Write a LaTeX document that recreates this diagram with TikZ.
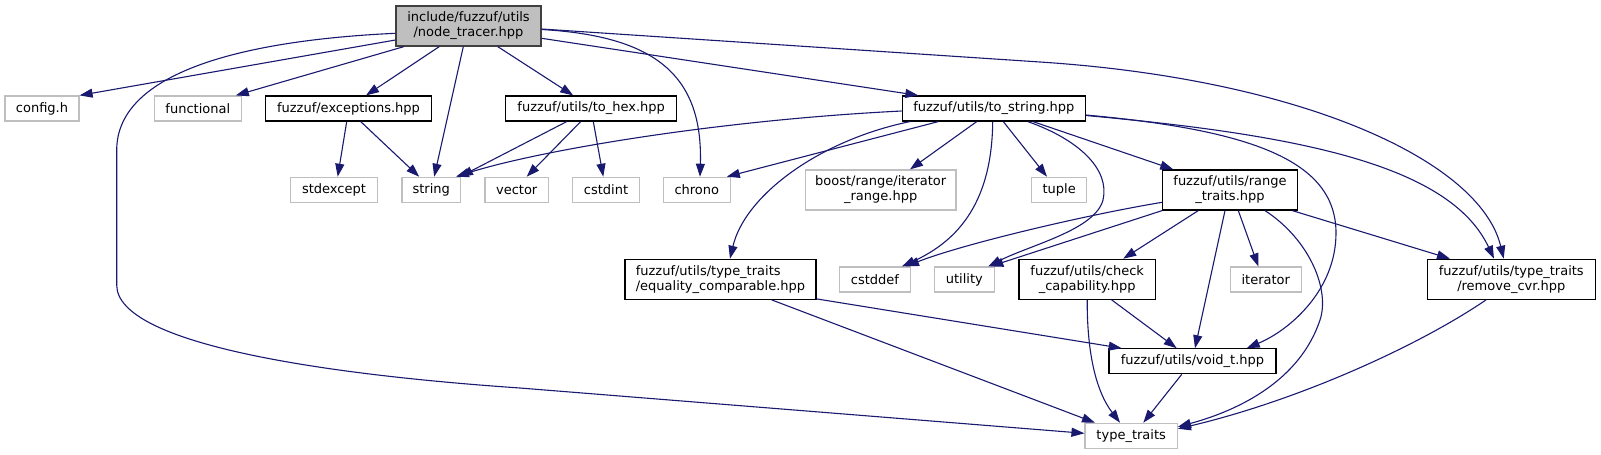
\documentclass[tikz,border=0pt]{standalone}
\usepackage{fontspec}
\newfontfamily\dvs{DejaVu Sans}
\usetikzlibrary{arrows.meta,calc}
\definecolor{edgeblue}{HTML}{191970}
\definecolor{greyb}{HTML}{BFBFBF}
\definecolor{dgrey}{HTML}{404040}
\begin{document}
\begin{tikzpicture}[x=1pt,y=-1pt,
 nd/.style={rectangle, draw=black, fill=white, line width=1.2pt, inner sep=0pt, align=center, font=\dvs\fontsize{13}{15}\selectfont, text=black},
 ext/.style={nd, draw=greyb},
 topnode/.style={nd, draw=dgrey, fill=greyb},
 e/.style={draw=edgeblue, line width=1.1pt, -{Triangle[length=13pt,width=9pt]}}
]
\useasboundingbox[fill=white] (0,0) rectangle (1601,455);

\node[topnode, minimum width=145pt, minimum height=40pt] (main) at (468.5,26) {include/fuzzuf/utils\\/node\_tracer.hpp};

\node[ext, minimum width=74pt, minimum height=25pt] (config) at (42,108.5) {config.h};
\node[ext, minimum width=87pt, minimum height=25pt] (functional) at (197.8,108.5) {functional};
\node[nd, minimum width=165.6pt, minimum height=25pt] (exceptions) at (348.5,108.5) {fuzzuf/exceptions.hpp};
\node[nd, minimum width=171pt, minimum height=25pt] (tohex) at (591.2,108.5) {fuzzuf/utils/to\_hex.hpp};
\node[nd, minimum width=183pt, minimum height=25pt] (tostring) at (993.8,108.5) {fuzzuf/utils/to\_string.hpp};

\node[ext, minimum width=86.6pt, minimum height=25pt] (stdexcept) at (334,189.8) {stdexcept};
\node[ext, minimum width=58.3pt, minimum height=25pt] (string) at (431.2,189.8) {string};
\node[ext, minimum width=63.3pt, minimum height=25pt] (vector) at (516.7,189.8) {vector};
\node[ext, minimum width=66.6pt, minimum height=25pt] (cstdint) at (606,189.8) {cstdint};
\node[ext, minimum width=67pt, minimum height=25pt] (chrono) at (696.8,189.8) {chrono};
\node[ext, minimum width=150.7pt, minimum height=40pt] (boost) at (880.7,190) {boost/range/iterator\\\_range.hpp};
\node[ext, minimum width=55pt, minimum height=25pt] (tuple) at (1059.2,189.8) {tuple};
\node[nd, minimum width=134.6pt, minimum height=40pt] (range) at (1230,190) {fuzzuf/utils/range\\\_traits.hpp};

\node[nd, align=left, minimum width=191pt, minimum height=40pt] (equality) at (720.5,279.3) {fuzzuf/utils/type\_traits\\/equality\_comparable.hpp};
\node[ext, minimum width=70.6pt, minimum height=25pt] (cstddef) at (875,279.5) {cstddef};
\node[ext, minimum width=60pt, minimum height=25pt] (utility) at (964.3,279.5) {utility};
\node[nd, minimum width=136.3pt, minimum height=40pt] (check) at (1087.2,279.3) {fuzzuf/utils/check\\\_capability.hpp};
\node[ext, minimum width=71pt, minimum height=25pt] (iterator) at (1265.8,279.5) {iterator};
\node[nd, minimum width=168pt, minimum height=40pt] (removecvr) at (1511.3,279.3) {fuzzuf/utils/type\_traits\\/remove\_cvr.hpp};

\node[nd, minimum width=167pt, minimum height=25pt] (voidt) at (1192.5,361.3) {fuzzuf/utils/void\_t.hpp};
\node[ext, minimum width=92.3pt, minimum height=25pt] (typetraits) at (1131.2,435.8) {type\_traits};

% main
\draw[e] ($(main.west)+(0,14)$) -- (config.north east);
\draw[e] ($(main.south)+(-64.5,0)$) -- ($(functional.north)+(38,0)$);
\draw[e] ($(main.south)+(-29.2,0)$) -- ($(exceptions.north)+(17.5,0)$);
\draw[e] ($(main.south)+(-5.2,0)$) -- ($(string.north)+(3,0)$);
\draw[e] ($(main.south)+(29.2,0)$) -- ($(tohex.north)+(-18,0)$);
\draw[e] ($(main.east)+(0,3.5)$) .. controls (655,36) and (703,75) .. ($(chrono.north)+(3.2,0)$);
\draw[e] ($(main.east)+(0,12.3)$) -- ($(tostring.north)+(-75.5,0)$);
\draw[e] ($(main.east)+(0,3)$) -- (1040,62) .. controls (1300,79) and (1480,160) .. ($(removecvr.north)+(-7.6,0)$);
\draw[e] ($(main.west)+(0,7.3)$) .. controls (250,40) and (117,70) .. (116.7,150) -- (116.7,285) .. controls (116.7,345) and (330,375) .. (520,388) -- ($(typetraits.west)+(0,-2.5)$);

% exceptions
\draw[e] ($(exceptions.south)+(-1.8,0)$) -- ($(stdexcept.north)+(3.7,0)$);
\draw[e] ($(exceptions.south)+(12.2,0)$) -- ($(string.north)+(-12,0)$);

% to_hex
\draw[e] ($(tohex.south)+(-24.5,0)$) -- ($(string.north east)+(-1,0)$);
\draw[e] ($(tohex.south)+(-10.5,0)$) -- ($(vector.north)+(10,0)$);
\draw[e] ($(tohex.south)+(2.1,0)$) -- ($(cstdint.north)+(-2.7,0)$);

% to_string
\draw[e] ($(tostring.west)+(0,2.5)$) .. controls (720,120) and (540,150) .. ($(string.north east)+(-5,0)$);
\draw[e] ($(tostring.south)+(-55.5,0)$) -- ($(chrono.north)+(30,0)$);
\draw[e] ($(tostring.south)+(-83.8,0)$) .. controls (820,140) and (745,195) .. ($(equality.north)+(9.5,0)$);
\draw[e] ($(tostring.south)+(-17.1,0)$) -- ($(boost.north)+(29.3,0)$);
\draw[e] ($(tostring.south)+(-1.1,0)$) .. controls (992,200) and (960,240) .. ($(cstddef.north)+(27,0)$);
\draw[e] ($(tostring.south)+(9.5,0)$) -- ($(tuple.north)+(-12.2,0)$);
\draw[e] ($(tostring.south)+(39.2,0)$) -- ($(range.north)+(-56.7,0)$);
\draw[e] ($(tostring.south)+(34,0)$) .. controls (1080,140) and (1110,170) .. (1103,200) .. controls (1095,230) and (1030,245) .. ($(utility.north)+(24,0)$);
\draw[e] ($(tostring.east)+(0,6.5)$) .. controls (1250,130) and (1336,160) .. (1336,233) .. controls (1336,290) and (1290,330) .. ($(voidt.north)+(54.2,0)$);
\draw[e] ($(tostring.east)+(0,7)$) .. controls (1300,135) and (1450,165) .. ($(removecvr.north)+(-17.3,0)$);

% range_traits
\draw[e] ($(range.west)+(0,12.3)$) .. controls (1080,216) and (960,245) .. ($(cstddef.north)+(31,0)$);
\draw[e] (range.south west) -- ($(utility.north)+(26,0)$);
\draw[e] ($(range.south)+(-31.7,0)$) -- ($(check.north)+(36,0)$);
\draw[e] ($(range.south)+(-5,0)$) -- ($(voidt.north)+(2.5,0)$);
\draw[e] ($(range.south)+(8.3,0)$) -- ($(iterator.north)+(-7.5,0)$);
\draw[e] ($(range.south)+(35,0)$) .. controls (1310,240) and (1330,290) .. (1320,320) .. controls (1300,380) and (1240,410) .. ($(typetraits.east)+(0,-9)$);
\draw[e] ($(range.south east)+(-5.6,0)$) -- ($(removecvr.north)+(-61.3,0)$);

% equality
\draw[e] ($(equality.south east)+(0,-1)$) -- ($(voidt.north)+(-70.8,0)$);
\draw[e] ($(equality.south)+(51.2,0)$) -- ($(typetraits.north)+(-36.2,0)$);

% check
\draw[e] (check.south) .. controls (1087,350) and (1095,390) .. ($(typetraits.north)+(-11.2,0)$);
\draw[e] ($(check.south)+(24.5,0)$) -- ($(voidt.north)+(-15.8,0)$);

% void_t
\draw[e] ($(voidt.south)+(-10.8,0)$) -- ($(typetraits.north)+(12.1,0)$);

% remove_cvr
\draw[e] ($(removecvr.south)+(-25.3,0)$) .. controls (1420,345) and (1300,400) .. ($(typetraits.east)+(0,-7)$);
\end{tikzpicture}
\end{document}
